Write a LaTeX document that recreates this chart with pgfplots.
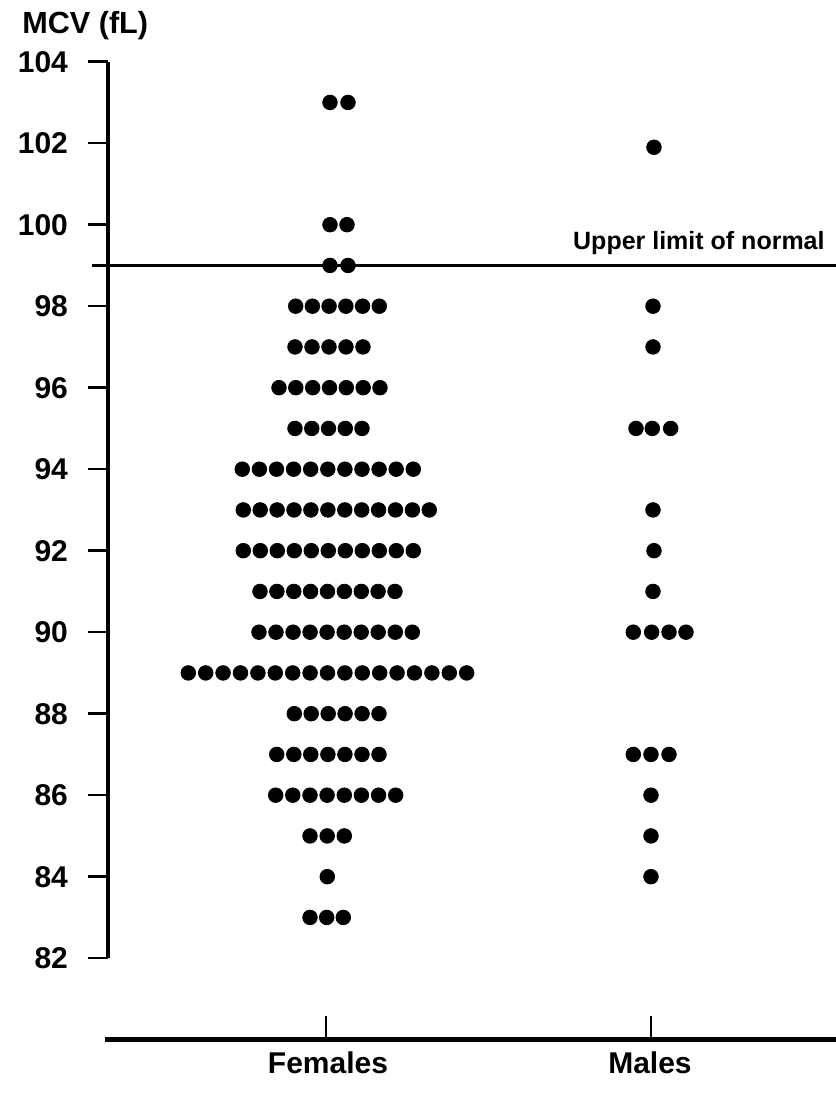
\documentclass[border=0pt]{standalone}
\usepackage{pgfplots}
\pgfplotsset{compat=1.18}
\usepackage{fontspec}
\setmainfont{Liberation Sans}
\begin{document}
\begin{tikzpicture}
\begin{axis}[
  x=0.5pt, y=20.375pt,
  xmin=108, xmax=836, ymin=82, ymax=104,
  axis x line=none, axis y line*=left,
  y axis line style={line width=2.4pt, black},
  ytick={82,84,...,104},
  tick align=outside,
  major tick length=10pt,
  ytick style={line width=1.2pt, black},
  yticklabel style={font=\fontsize{15}{15}\selectfont\bfseries, xshift=-6.5pt, /pgf/number format/assume math mode=true},
  clip=false,
]
% Females
\addplot[only marks, mark=*, mark size=3.65pt, black] coordinates {
(330,103) (348,103)
(330,100) (347,100)
(330,99) (348,99)
(295.7,98) (312.4,98) (329.1,98) (345.9,98) (362.6,98) (379.3,98)
(295,97) (312,97) (329,97) (346,97) (363,97)
(279,96) (295.8,96) (312.7,96) (329.5,96) (346.3,96) (363.2,96) (380,96)
(295,95) (311.8,95) (328.5,95) (345.3,95) (362,95)
(242.3,94) (259.4,94) (276.5,94) (293.6,94) (310.7,94) (327.8,94) (344.9,94) (362,94) (379.1,94) (396.2,94) (413.3,94)
(243.3,93) (260.2,93) (277.1,93) (294,93) (310.9,93) (327.9,93) (344.8,93) (361.7,93) (378.6,93) (395.5,93) (412.4,93) (429.3,93)
(243.3,92) (260.3,92) (277.3,92) (294.3,92) (311.3,92) (328.3,92) (345.3,92) (362.3,92) (379.3,92) (396.3,92) (413.3,92)
(260,91) (276.9,91) (293.8,91) (310.6,91) (327.5,91) (344.4,91) (361.3,91) (378.1,91) (395,91)
(259,90) (276,90) (293.1,90) (310.1,90) (327.1,90) (344.2,90) (361.2,90) (378.2,90) (395.3,90) (412.3,90)
(188.3,89) (205.7,89) (223.1,89) (240.5,89) (257.9,89) (275.3,89) (292.7,89) (310.1,89) (327.5,89) (344.9,89) (362.3,89) (379.7,89) (397.1,89) (414.5,89) (431.9,89) (449.3,89) (466.7,89)
(294.3,88) (311.2,88) (328.2,88) (345.1,88) (362.1,88) (379,88)
(276.7,87) (293.8,87) (310.8,87) (327.9,87) (344.9,87) (362,87) (379,87)
(275.7,86) (292.8,86) (310,86) (327.1,86) (344.3,86) (361.4,86) (378.6,86) (395.7,86)
(310,85) (327.2,85) (344.3,85)
(327.3,84)
(310,83) (326.7,83) (343.3,83)
};
% Males
\addplot[only marks, mark=*, mark size=3.65pt, black] coordinates {
(654,101.9)
(653,98) (653,97)
(636,95) (652.3,95) (670.7,95)
(653,93) (654,92) (653,91)
(633.3,90) (651.7,90) (669,90) (686,90)
(633.3,87) (651,87) (669,87)
(651,86) (651,85) (651,84)
};
% upper limit of normal
\draw[line width=1.3pt] (axis cs:92,99) -- (axis cs:836,99);
\node[anchor=base east, font=\fontsize{12.5}{12.5}\selectfont\bfseries, inner sep=0pt] at (axis cs:825,99.38) {Upper limit of normal};
% y-axis title
\node[anchor=base west, font=\fontsize{15.3}{15.3}\selectfont\bfseries, inner sep=0pt] at (axis cs:22,104.7) {MCV (fL)};
% category axis
\draw[line width=2.5pt] (axis cs:105,80) -- (axis cs:836,80);
\draw[line width=1.2pt] (axis cs:326,80) -- (axis cs:326,80.58);
\draw[line width=1.2pt] (axis cs:651,80) -- (axis cs:651,80.58);
\node[anchor=base, font=\fontsize{15}{15}\selectfont\bfseries, inner sep=0pt] at (axis cs:328,79.16) {Females};
\node[anchor=base, font=\fontsize{15}{15}\selectfont\bfseries, inner sep=0pt] at (axis cs:650,79.16) {Males};
\coordinate (BL) at (axis cs:0,78.667);
\coordinate (TR) at (axis cs:836,105.514);
\end{axis}
\pgfresetboundingbox
\path[use as bounding box] (BL) rectangle (TR);
\end{tikzpicture}
\end{document}
